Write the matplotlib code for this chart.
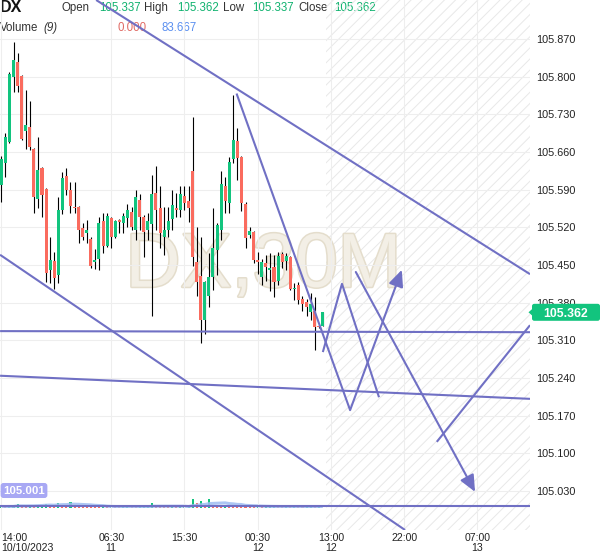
import matplotlib
matplotlib.use('Agg')
import matplotlib.pyplot as plt
import numpy as np
import pandas as pd
from matplotlib import patheffects as pe
from matplotlib.patches import FancyBboxPatch, Polygon

plt.rcParams['font.family'] = ['Liberation Sans', 'DejaVu Sans']
plt.rcParams['hatch.linewidth'] = 0.7

# ---------------- data ----------------
opens = [105.599, 105.640, 105.679, 105.800, 105.828, 105.802, 105.699, 105.707, 105.666, 105.572,
         105.630, 105.591, 105.440, 105.457, 105.431, 105.552, 105.615, 105.589, 105.558, 105.558,
         105.518, 105.509, 105.498, 105.455, 105.462, 105.531, 105.485, 105.537, 105.502, 105.533,
         105.528, 105.537, 105.548, 105.516, 105.571, 105.539, 105.516, 105.526, 105.584, 105.556,
         105.503, 105.516, 105.535, 105.556, 105.552, 105.578, 105.569, 105.625, 105.455, 105.429,
         105.348, 105.393, 105.427, 105.477, 105.515, 105.597, 105.565, 105.647, 105.681, 105.651,
         105.563, 105.505, 105.511, 105.460, 105.427, 105.453, 105.440, 105.446, 105.421, 105.470,
         105.457, 105.464, 105.406, 105.412, 105.386, 105.382, 105.363, 105.365, 105.337, 105.337]
highs = [105.653, 105.696, 105.809, 105.864, 105.845, 105.804, 105.776, 105.755, 105.667, 105.688,
         105.632, 105.593, 105.502, 105.475, 105.576, 105.623, 105.630, 105.604, 105.604, 105.559,
         105.528, 105.533, 105.502, 105.479, 105.539, 105.546, 105.546, 105.539, 105.533, 105.535,
         105.546, 105.563, 105.558, 105.589, 105.582, 105.543, 105.546, 105.617, 105.634, 105.597,
         105.558, 105.558, 105.589, 105.584, 105.597, 105.597, 105.597, 105.726, 105.520, 105.502,
         105.421, 105.472, 105.556, 105.528, 105.625, 105.614, 105.651, 105.767, 105.705, 105.653,
         105.567, 105.520, 105.513, 105.474, 105.462, 105.468, 105.472, 105.468, 105.474, 105.474,
         105.472, 105.466, 105.416, 105.419, 105.393, 105.386, 105.397, 105.390, 105.338, 105.362]
lows = [105.567, 105.614, 105.677, 105.772, 105.772, 105.682, 105.666, 105.664, 105.546, 105.556,
        105.539, 105.419, 105.416, 105.406, 105.416, 105.544, 105.580, 105.546, 105.546, 105.490,
        105.496, 105.490, 105.444, 105.442, 105.440, 105.472, 105.483, 105.481, 105.500, 105.509,
        105.509, 105.520, 105.515, 105.496, 105.515, 105.464, 105.496, 105.356, 105.515, 105.481,
        105.468, 105.502, 105.515, 105.539, 105.539, 105.552, 105.530, 105.449, 105.393, 105.304,
        105.322, 105.371, 105.403, 105.431, 105.496, 105.546, 105.546, 105.640, 105.608, 105.550,
        105.481, 105.500, 105.453, 105.434, 105.412, 105.421, 105.401, 105.391, 105.412, 105.444,
        105.440, 105.403, 105.384, 105.378, 105.365, 105.356, 105.347, 105.292, 105.333, 105.337]
closes = [105.647, 105.688, 105.806, 105.832, 105.783, 105.684, 105.711, 105.670, 105.576, 105.627,
          105.580, 105.436, 105.460, 105.425, 105.552, 105.612, 105.589, 105.559, 105.556, 105.515,
          105.502, 105.516, 105.449, 105.459, 105.528, 105.485, 105.541, 105.502, 105.531, 105.530,
          105.541, 105.552, 105.520, 105.576, 105.539, 105.511, 105.531, 105.582, 105.552, 105.509,
          105.516, 105.531, 105.561, 105.552, 105.582, 105.565, 105.556, 105.464, 105.418, 105.348,
          105.418, 105.427, 105.481, 105.524, 105.600, 105.569, 105.641, 105.683, 105.649, 105.565,
          105.500, 105.513, 105.459, 105.455, 105.455, 105.447, 105.444, 105.419, 105.466, 105.455,
          105.466, 105.406, 105.408, 105.384, 105.378, 105.371, 105.378, 105.334, 105.334, 105.362]
volumes = [100, 90, 110, 120, 380, 150, 130, 200, 180, 250,
           280, 350, 280, 260, 480, 270, 260, 550, 250, 200,
           150, 120, 100, 90, 80, 100, 70, 90, 80, 70,
           80, 90, 70, 60, 80, 90, 100, 450, 120, 100,
           90, 80, 90, 70, 90, 100, 120, 850, 480, 620,
           300, 850, 280, 260, 250, 270, 230, 200, 180, 150,
           120, 100, 90, 110, 80, 90, 100, 110, 90, 80,
           100, 90, 100, 95, 90, 95, 100, 88, 95, 0]

time_tick_pos = [0, 27, 45, 63, 81, 99, 117]
time_tick_labels = ['14:00\n10/10/2023', '06:30\n11', '15:30', '00:30\n12',
                    '13:00\n12', '22:00', '07:00\n13']
price_ticks = [105.030, 105.100, 105.170, 105.240, 105.310, 105.380, 105.450,
               105.520, 105.590, 105.660, 105.730, 105.800, 105.870]

# drawings: (bar index, price) pairs
trend_lines = [
    [(23.3, 105.943), (129.9, 105.433)],
    [(-0.3, 105.469), (99.2, 104.957)],
    [(-0.3, 105.327), (129.9, 105.325)],
    [(-0.3, 105.244), (129.9, 105.201)],
    [(-0.3, 105.001), (129.9, 105.001)],
    [(57.8, 105.769), (85.7, 105.180)],
    [(79.0, 105.288), (83.7, 105.415), (92.8, 105.204)],
    [(107.0, 105.121), (129.9, 105.338)],
]
arrows = [
    [(85.7, 105.180), (98.4, 105.441)],
    [(87.1, 105.437), (116.4, 105.028)],
]
h_level = 105.001
last_price = 105.362

# ---------------- styling ----------------
GREEN = '#12c47e'
RED = '#fa6b5e'
PURPLE = '#7070c4'
W, H = 600, 558

fig = plt.figure(figsize=(W / 100, H / 100), dpi=100)
fig.patch.set_facecolor('white')

def fx(x):
    return x / W

def fy(y):
    return 1 - y / H

plot_right = 530
plot_bottom = 530
xlim = (-0.32, 129.9)
ylim = (104.957, 105.943)

# volume pane (behind main)
vol_base = 507.5
axv = fig.add_axes([0, fy(vol_base), fx(plot_right), 50 / H])
axv.set_xlim(*xlim)
axv.set_ylim(0, 5000)
axv.axis('off')
axv.set_zorder(0)
idx = np.arange(len(opens))
vcol = [GREEN] + [GREEN if volumes[i] >= volumes[i - 1] else RED for i in range(1, len(volumes))]
axv.bar(idx, volumes, width=0.5, color=vcol, linewidth=0)
ma = pd.Series(volumes).rolling(9, min_periods=1).mean()
axv.plot(idx, ma, color='#9fbcf2', lw=2.2, alpha=0.85, solid_capstyle='butt')

ax = fig.add_axes([0, fy(plot_bottom), fx(plot_right), plot_bottom / H])
ax.set_zorder(1)
ax.patch.set_alpha(0)
ax.set_xlim(*xlim)
ax.set_ylim(*ylim)
for s in ax.spines.values():
    s.set_visible(False)

# future hatched area
ax.axvspan(79.8, xlim[1] + 5, facecolor='none', edgecolor='#e8e8e8', hatch='///', lw=0, zorder=0)

# grid / ticks
ax.set_yticks(price_ticks)
ax.set_yticklabels([f'{p:.3f}' for p in price_ticks])
ax.yaxis.tick_right()
ax.tick_params(axis='y', length=0, pad=4.5, labelsize=7.8, labelcolor='#222222')
ax.set_xticks(time_tick_pos)
ax.set_xticklabels(time_tick_labels, linespacing=0.98)
ax.tick_params(axis='x', length=0, pad=2.5, labelsize=7.6, labelcolor='#222222')
ax.get_xticklabels()[0].set_ha('left')
ax.get_xticklabels()[0].set_multialignment('left')
ax.grid(True, color='#eeeeee', lw=0.8, zorder=0)
ax.set_axisbelow(True)

# watermark
ax.text(64.4, 105.4096, 'DX,30M', fontsize=55, ha='center', va='baseline',
        color='#f3efe6', zorder=0.5,
        path_effects=[pe.withStroke(linewidth=2.2, foreground='#e4ddcc')])

# candles
ccol = [GREEN if c >= o else RED for o, c in zip(opens, closes)]
ax.vlines(idx, lows, highs, color='black', lw=0.8, zorder=2)
bottoms = [min(o, c) for o, c in zip(opens, closes)]
heights = [max(abs(c - o), 0.0018) for o, c in zip(opens, closes)]
ax.bar(idx, heights, bottom=bottoms, width=0.74, color=ccol, linewidth=0, zorder=3)

# drawings
for pts in trend_lines:
    xs, ys = zip(*pts)
    ax.plot(xs, ys, color=PURPLE, lw=1.5, zorder=4, solid_capstyle='butt')
for (p0, p1) in arrows:
    ax.annotate('', xy=p1, xytext=p0,
                arrowprops=dict(arrowstyle='-|>,head_length=1.0,head_width=0.45',
                                color=PURPLE, lw=1.5, mutation_scale=10,
                                shrinkA=0, shrinkB=0), zorder=4)

# last price tag (box in figure pixels, vertically at the last price)
fig.canvas.draw()
tag_y = ax.transData.transform((0, last_price))[1]  # display pixels from bottom
tag_h = 17
box = FancyBboxPatch((532 / W, (tag_y - tag_h / 2) / H), 68 / W, tag_h / H,
                     boxstyle='round,pad=0,rounding_size=0.004', transform=fig.transFigure,
                     fc=GREEN, ec='none', zorder=6)
fig.patches.append(box)
tri = Polygon([(528.5 / W, tag_y / H), (533 / W, (tag_y + 4) / H), (533 / W, (tag_y - 4) / H)],
              closed=True, transform=fig.transFigure, fc=GREEN, ec='none', zorder=6)
fig.patches.append(tri)
fig.text(566 / W, tag_y / H, f'{last_price:.3f}', ha='center', va='center_baseline',
         fontsize=8.8, color='white', fontweight='bold', zorder=7)

# 105.001 label
fig.text(fx(24), fy(490.5), f'{h_level:.3f}', ha='center', va='center', fontsize=8.2,
         color='white', fontweight='bold', zorder=6,
         bbox=dict(boxstyle='round,pad=0.22,rounding_size=0.25', fc='#a8a8f4', ec='none'))

# header
hdr = 8.3
fig.text(fx(0), fy(8), 'DX', fontsize=11.5, fontweight='bold', va='center', ha='left', color='#111111', zorder=-1)
for x, t, c in [(62, 'Open', '#333333'), (99, '105.337', '#10b26f'),
                (144, 'High', '#333333'), (177, '105.362', '#10b26f'),
                (223, 'Low', '#333333'), (252, '105.337', '#10b26f'),
                (298, 'Close', '#333333'), (334, '105.362', '#10b26f')]:
    fig.text(fx(x), fy(8), t, fontsize=hdr, va='center', ha='left', color=c, zorder=-1)
fig.text(fx(0), fy(28), 'Volume', fontsize=hdr, va='center', ha='left', color='#333333', zorder=-1)
fig.text(fx(43), fy(28), '(9)', fontsize=hdr, va='center', ha='left', color='#333333', style='italic', zorder=-1)
fig.text(fx(117), fy(28), '0.000', fontsize=hdr, va='center', ha='left', color='#e06a64', zorder=-1)
fig.text(fx(162), fy(28), '83.667', fontsize=hdr, va='center', ha='left', color='#5a8ff0', zorder=-1)

fig.savefig('out.png', dpi=100, facecolor='white')
